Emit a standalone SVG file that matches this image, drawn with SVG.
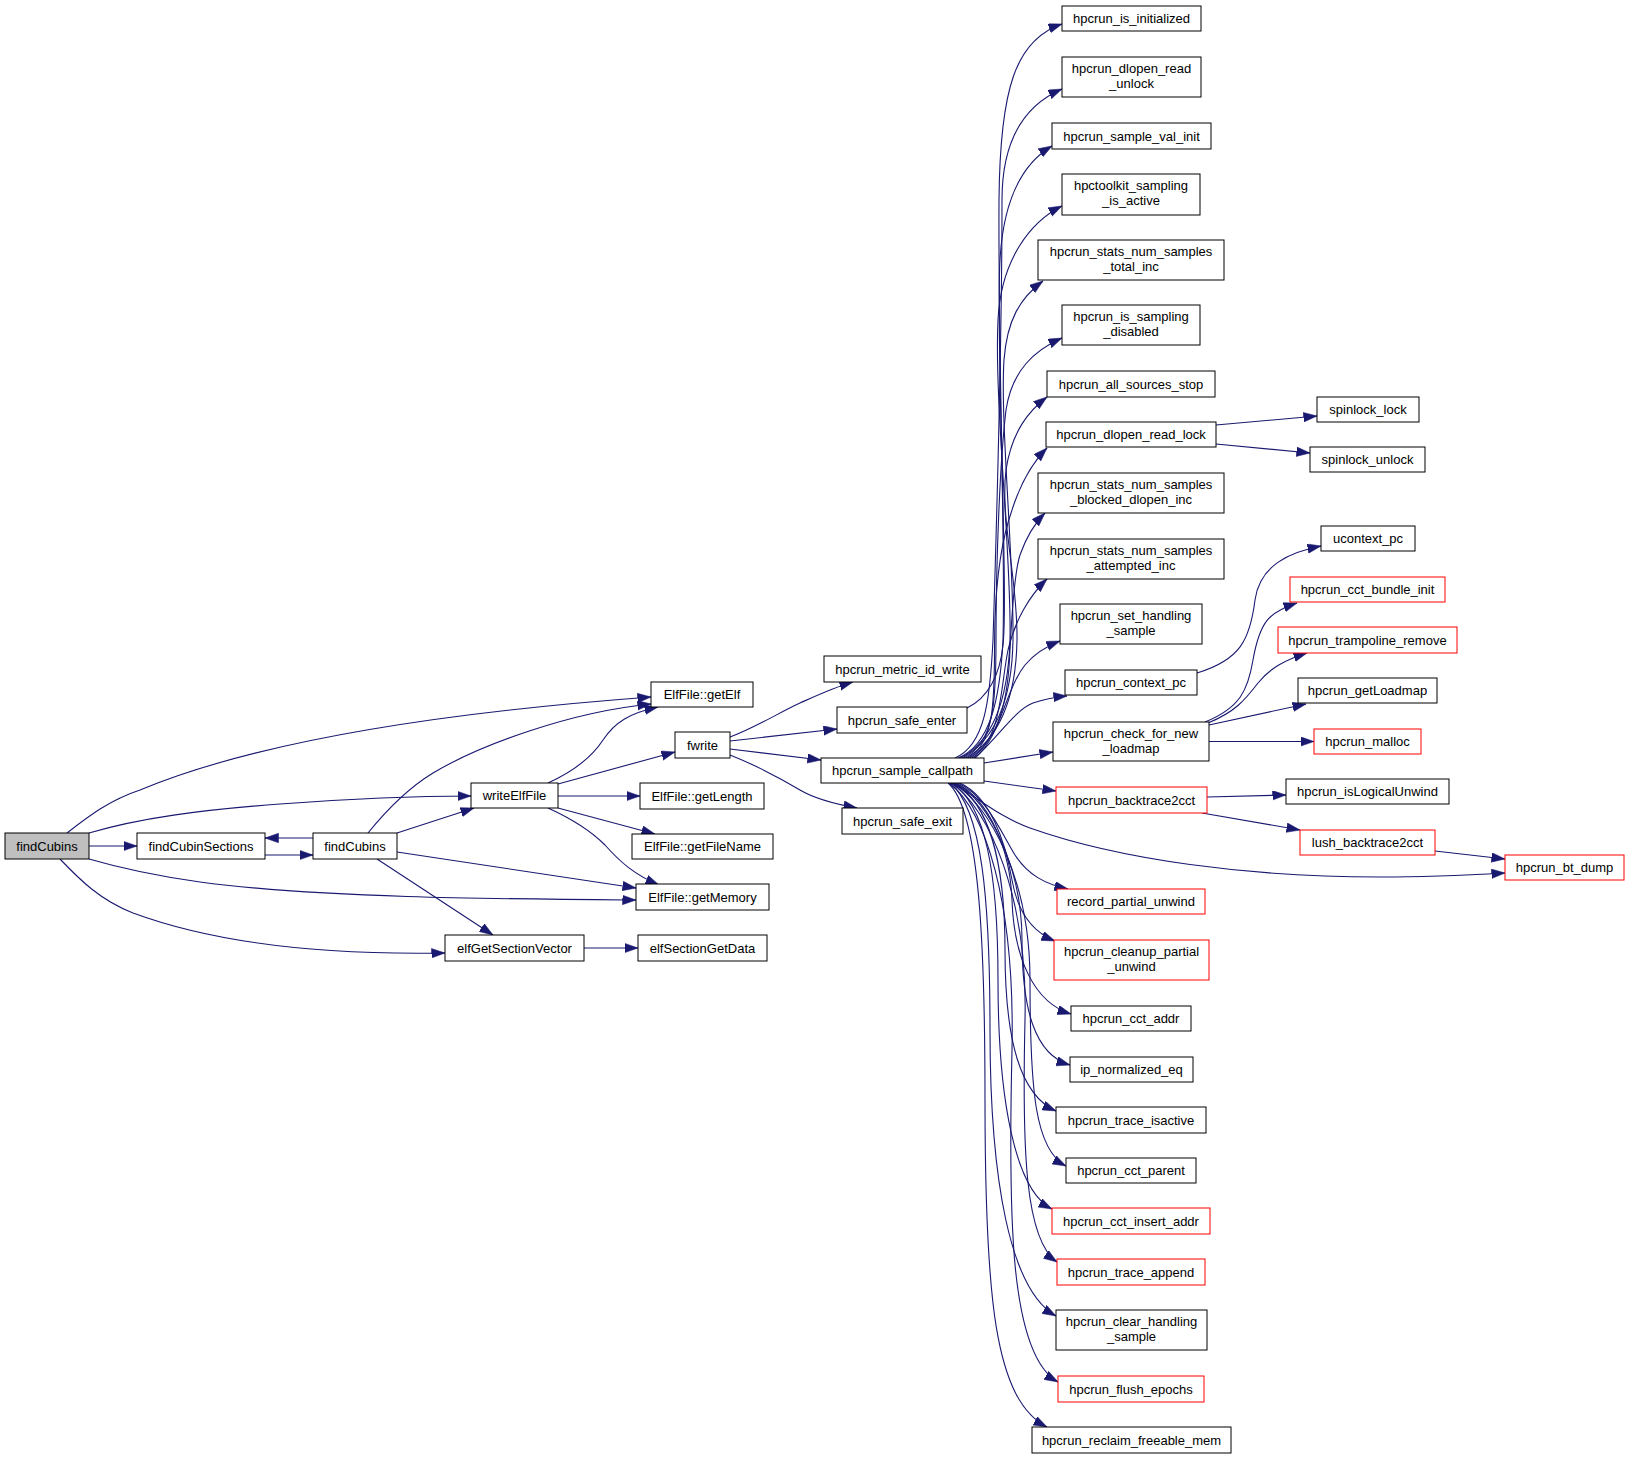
<svg xmlns="http://www.w3.org/2000/svg" width="1629" height="1459" viewBox="0 0 1629 1459">
<style>
.n rect{fill:#fff;stroke:#000;stroke-width:1}
.r rect{stroke:#f00}
.root rect{fill:#bfbfbf}
text{font-family:"Liberation Sans",Arial,sans-serif;font-size:13px;text-anchor:middle;fill:#000}
.e path{fill:none;stroke:#191970;stroke-width:1.1;marker-end:url(#a)}
</style>
<defs>
<marker id="a" markerWidth="14" markerHeight="10" refX="13.5" refY="4.75" orient="auto" markerUnits="userSpaceOnUse">
<path d="M0,0 L13.5,4.75 L0,9.5 z" fill="#191970" stroke="#191970" stroke-width="0.5"/>
</marker>
</defs>
<rect width="1629" height="1459" fill="#fff"/>
<g id="edges" class="e">
<path d="M67,833 C90,815 110,800 140,790 C260,740 450,712 651,697"/>
<path d="M89,833 C140,818 200,810 280,804 C360,798 420,796 471,796"/>
<path d="M89,846 L137,846"/>
<path d="M89,859 C120,868 150,875 200,882 C320,898 500,899 636,900"/>
<path d="M60,859 C80,880 100,900 133,913 C220,945 330,955 445,953"/>
<path d="M265,855 L313,855"/>
<path d="M313,838 L265,838"/>
<path d="M368,833 C385,812 405,790 433,773 C480,745 570,712 651,704"/>
<path d="M397,833 L474,808"/>
<path d="M397,852 L636,888"/>
<path d="M377,859 L493,935"/>
<path d="M548,783 C570,773 590,760 603,740 C615,722 630,713 658,707"/>
<path d="M558,784 L675,752"/>
<path d="M558,796 L640,796"/>
<path d="M558,808 L655,834"/>
<path d="M548,808 C570,818 590,830 605,845 C620,862 635,875 659,885"/>
<path d="M584,948 L638,948"/>
<path d="M730,737 C755,728 780,712 800,703 C820,694 835,687 853,682"/>
<path d="M730,741 L837,729"/>
<path d="M730,749 L821,760"/>
<path d="M730,755 C750,763 775,775 800,790 C815,799 835,804 857,808"/>
<path d="M967,708 C988,698 1000,675 1003,645 C1008,600 998,400 999,200 C1000,90 1015,40 1062,24"/>
<path d="M955,758 C985,745 990,700 993,640 C998,480 1002,300 1002,200 C1002,140 1025,105 1062,89"/>
<path d="M958,758 C990,745 1000,700 1003,640 C1006,520 996,330 1000,260 C1003,205 1020,165 1052,146"/>
<path d="M960,758 C992,742 1008,700 1010,640 C1012,560 994,400 998,320 C1001,260 1030,222 1062,206"/>
<path d="M962,758 C995,740 1012,700 1013,640 C1014,560 1000,420 1004,360 C1007,320 1020,298 1043,281"/>
<path d="M964,758 C995,742 996,700 996,640 C996,560 1000,460 1006,410 C1012,370 1035,350 1062,338"/>
<path d="M966,758 C998,740 1016,700 1017,640 C1018,580 1000,520 1006,470 C1012,430 1030,410 1047,397"/>
<path d="M968,758 C1000,740 993,680 995,620 C997,560 1005,530 1012,510 C1020,485 1032,463 1047,448"/>
<path d="M970,758 C1000,738 1008,700 1010,650 C1012,610 1015,570 1020,555 C1027,535 1035,523 1045,513"/>
<path d="M972,758 C1002,738 1000,690 1008,650 C1015,620 1030,595 1047,579"/>
<path d="M974,758 C1000,740 1005,690 1025,665 C1035,653 1047,646 1060,641"/>
<path d="M975,758 C1000,735 1015,710 1033,703 C1045,699 1055,697 1067,696"/>
<path d="M984,763 L1053,752"/>
<path d="M984,781 L1056,791"/>
<path d="M952,783 C975,795 995,815 1030,828 C1120,860 1250,877 1380,877 C1430,877 1470,875 1505,873"/>
<path d="M958,783 C985,795 1000,830 1015,855 C1028,875 1045,884 1068,889"/>
<path d="M960,783 C990,797 1005,840 1012,880 C1018,915 1035,933 1055,941"/>
<path d="M956,783 C990,800 1010,850 1012,900 C1014,960 1035,1003 1071,1014"/>
<path d="M955,783 C990,800 1022,870 1022,940 C1022,1010 1035,1055 1070,1065"/>
<path d="M954,783 C988,802 1005,860 1005,950 C1005,1040 1020,1095 1056,1111"/>
<path d="M953,783 C990,805 1030,880 1030,980 C1030,1090 1035,1150 1066,1166"/>
<path d="M952,783 C985,805 998,870 998,980 C998,1100 1015,1190 1052,1209"/>
<path d="M951,783 C990,808 1028,900 1025,1020 C1022,1150 1025,1240 1057,1262"/>
<path d="M950,783 C982,808 990,900 990,1030 C990,1180 1010,1290 1056,1316"/>
<path d="M949,783 C985,810 1015,900 1012,1050 C1008,1220 1010,1355 1058,1382"/>
<path d="M948,783 C980,810 985,950 985,1100 C985,1300 995,1400 1047,1427"/>
<path d="M1216,425 L1317,416"/>
<path d="M1216,444 L1310,453"/>
<path d="M1197,673 C1240,660 1250,640 1255,600 C1260,565 1290,552 1321,546"/>
<path d="M1205,722 C1240,708 1248,690 1253,660 C1260,620 1270,612 1297,603"/>
<path d="M1208,723 C1235,712 1245,700 1258,683 C1270,668 1285,660 1307,653"/>
<path d="M1209,725 L1306,704"/>
<path d="M1209,741.5 L1314,741.5"/>
<path d="M1207,797 L1286,795"/>
<path d="M1202,813 L1300,830"/>
<path d="M1435,851 L1505,859"/>
</g>
<g id="n_findCubins" class="n root"><rect x="5" y="833" width="84" height="26"/><text x="47" y="850.5">findCubins</text></g>
<g id="n_findCubinSections" class="n"><rect x="137" y="833" width="128" height="26"/><text x="201" y="850.5">findCubinSections</text></g>
<g id="n_findCubins2" class="n"><rect x="313" y="833" width="84" height="26"/><text x="355" y="850.5">findCubins</text></g>
<g id="n_writeElfFile" class="n"><rect x="471" y="783" width="87" height="25"/><text x="514.5" y="800">writeElfFile</text></g>
<g id="n_elfGetSectionVector" class="n"><rect x="445" y="935" width="139" height="26"/><text x="514.5" y="952.5">elfGetSectionVector</text></g>
<g id="n_getElf" class="n"><rect x="651" y="682" width="102" height="25"/><text x="702" y="699">ElfFile::getElf</text></g>
<g id="n_fwrite" class="n"><rect x="675" y="732" width="55" height="26"/><text x="702.5" y="749.5">fwrite</text></g>
<g id="n_getLength" class="n"><rect x="640" y="783" width="124" height="26"/><text x="702" y="800.5">ElfFile::getLength</text></g>
<g id="n_getFileName" class="n"><rect x="632" y="834" width="141" height="25"/><text x="702.5" y="851">ElfFile::getFileName</text></g>
<g id="n_getMemory" class="n"><rect x="636" y="884" width="133" height="26"/><text x="702.5" y="901.5">ElfFile::getMemory</text></g>
<g id="n_elfSectionGetData" class="n"><rect x="638" y="935" width="129" height="26"/><text x="702.5" y="952.5">elfSectionGetData</text></g>
<g id="n_metric_id_write" class="n"><rect x="824" y="656" width="157" height="26"/><text x="902.5" y="673.5">hpcrun_metric_id_write</text></g>
<g id="n_safe_enter" class="n"><rect x="837" y="707" width="130" height="26"/><text x="902" y="724.5">hpcrun_safe_enter</text></g>
<g id="n_sample_callpath" class="n"><rect x="821" y="758" width="163" height="25"/><text x="902.5" y="775">hpcrun_sample_callpath</text></g>
<g id="n_safe_exit" class="n"><rect x="842" y="808" width="121" height="26"/><text x="902.5" y="825.5">hpcrun_safe_exit</text></g>
<g id="n_is_initialized" class="n"><rect x="1062" y="6" width="139" height="25"/><text x="1131.5" y="23">hpcrun_is_initialized</text></g>
<g id="n_dlopen_read_unlock" class="n"><rect x="1062" y="57" width="139" height="40"/><text x="1131.5" y="73">hpcrun_dlopen_read</text><text x="1131.5" y="88">_unlock</text></g>
<g id="n_sample_val_init" class="n"><rect x="1052" y="123" width="159" height="26"/><text x="1131.5" y="140.5">hpcrun_sample_val_init</text></g>
<g id="n_sampling_is_active" class="n"><rect x="1062" y="174" width="138" height="41"/><text x="1131" y="190">hpctoolkit_sampling</text><text x="1131" y="205">_is_active</text></g>
<g id="n_total_inc" class="n"><rect x="1038" y="240" width="186" height="40"/><text x="1131" y="256">hpcrun_stats_num_samples</text><text x="1131" y="271">_total_inc</text></g>
<g id="n_is_sampling_disabled" class="n"><rect x="1062" y="305" width="138" height="40"/><text x="1131" y="321">hpcrun_is_sampling</text><text x="1131" y="336">_disabled</text></g>
<g id="n_all_sources_stop" class="n"><rect x="1047" y="371" width="168" height="26"/><text x="1131" y="388.5">hpcrun_all_sources_stop</text></g>
<g id="n_dlopen_read_lock" class="n"><rect x="1046" y="422" width="170" height="25"/><text x="1131" y="439">hpcrun_dlopen_read_lock</text></g>
<g id="n_blocked_dlopen_inc" class="n"><rect x="1038" y="473" width="186" height="40"/><text x="1131" y="489">hpcrun_stats_num_samples</text><text x="1131" y="504">_blocked_dlopen_inc</text></g>
<g id="n_attempted_inc" class="n"><rect x="1038" y="539" width="186" height="40"/><text x="1131" y="555">hpcrun_stats_num_samples</text><text x="1131" y="570">_attempted_inc</text></g>
<g id="n_set_handling_sample" class="n"><rect x="1060" y="604" width="142" height="40"/><text x="1131" y="620">hpcrun_set_handling</text><text x="1131" y="635">_sample</text></g>
<g id="n_context_pc" class="n"><rect x="1065" y="670" width="132" height="25"/><text x="1131" y="687">hpcrun_context_pc</text></g>
<g id="n_check_for_new_loadmap" class="n"><rect x="1053" y="722" width="156" height="39"/><text x="1131" y="738">hpcrun_check_for_new</text><text x="1131" y="753">_loadmap</text></g>
<g id="n_backtrace2cct" class="n r"><rect x="1056" y="787" width="151" height="26"/><text x="1131.5" y="804.5">hpcrun_backtrace2cct</text></g>
<g id="n_record_partial_unwind" class="n r"><rect x="1057" y="889" width="148" height="25"/><text x="1131" y="906">record_partial_unwind</text></g>
<g id="n_cleanup_partial_unwind" class="n r"><rect x="1054" y="940" width="155" height="40"/><text x="1131.5" y="956">hpcrun_cleanup_partial</text><text x="1131.5" y="971">_unwind</text></g>
<g id="n_cct_addr" class="n"><rect x="1071" y="1006" width="120" height="25"/><text x="1131" y="1023">hpcrun_cct_addr</text></g>
<g id="n_ip_normalized_eq" class="n"><rect x="1070" y="1057" width="123" height="25"/><text x="1131.5" y="1074">ip_normalized_eq</text></g>
<g id="n_trace_isactive" class="n"><rect x="1056" y="1107" width="150" height="26"/><text x="1131" y="1124.5">hpcrun_trace_isactive</text></g>
<g id="n_cct_parent" class="n"><rect x="1066" y="1158" width="130" height="25"/><text x="1131" y="1175">hpcrun_cct_parent</text></g>
<g id="n_cct_insert_addr" class="n r"><rect x="1052" y="1208" width="158" height="26"/><text x="1131" y="1225.5">hpcrun_cct_insert_addr</text></g>
<g id="n_trace_append" class="n r"><rect x="1057" y="1259" width="148" height="26"/><text x="1131" y="1276.5">hpcrun_trace_append</text></g>
<g id="n_clear_handling_sample" class="n"><rect x="1056" y="1310" width="151" height="40"/><text x="1131.5" y="1326">hpcrun_clear_handling</text><text x="1131.5" y="1341">_sample</text></g>
<g id="n_flush_epochs" class="n r"><rect x="1058" y="1376" width="146" height="26"/><text x="1131" y="1393.5">hpcrun_flush_epochs</text></g>
<g id="n_reclaim_freeable_mem" class="n"><rect x="1032" y="1427" width="199" height="26"/><text x="1131.5" y="1444.5">hpcrun_reclaim_freeable_mem</text></g>
<g id="n_spinlock_lock" class="n"><rect x="1317" y="397" width="102" height="25"/><text x="1368" y="414">spinlock_lock</text></g>
<g id="n_spinlock_unlock" class="n"><rect x="1310" y="447" width="115" height="25"/><text x="1367.5" y="464">spinlock_unlock</text></g>
<g id="n_ucontext_pc" class="n"><rect x="1321" y="526" width="94" height="25"/><text x="1368" y="543">ucontext_pc</text></g>
<g id="n_cct_bundle_init" class="n r"><rect x="1290" y="577" width="155" height="25"/><text x="1367.5" y="594">hpcrun_cct_bundle_init</text></g>
<g id="n_trampoline_remove" class="n r"><rect x="1278" y="627" width="179" height="26"/><text x="1367.5" y="644.5">hpcrun_trampoline_remove</text></g>
<g id="n_getLoadmap" class="n"><rect x="1298" y="678" width="139" height="25"/><text x="1367.5" y="695">hpcrun_getLoadmap</text></g>
<g id="n_malloc" class="n r"><rect x="1314" y="729" width="107" height="25"/><text x="1367.5" y="746">hpcrun_malloc</text></g>
<g id="n_isLogicalUnwind" class="n"><rect x="1286" y="779" width="163" height="25"/><text x="1367.5" y="796">hpcrun_isLogicalUnwind</text></g>
<g id="n_lush_backtrace2cct" class="n r"><rect x="1300" y="830" width="135" height="25"/><text x="1367.5" y="847">lush_backtrace2cct</text></g>
<g id="n_bt_dump" class="n r"><rect x="1505" y="855" width="119" height="25"/><text x="1564.5" y="872">hpcrun_bt_dump</text></g>
</svg>
